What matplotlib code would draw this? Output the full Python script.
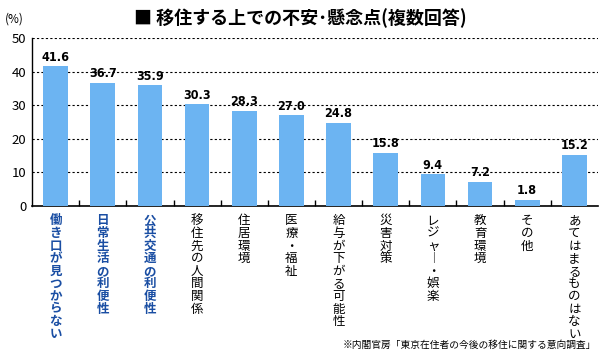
import matplotlib
matplotlib.use('Agg')
import matplotlib.pyplot as plt
import numpy as np

plt.rcParams['font.family'] = ['Noto Sans CJK JP', 'DejaVu Sans']

# データ
categories = ['働き口が見つからない', '日常生活の利便性', '公共交通の利便性', '移住先の人間関係',
              '住居環境', '医療・福祉', '給与が下がる可能性', '災害対策', 'レジャー・娯楽',
              '教育環境', 'その他', 'あてはまるものはない']
values = [41.6, 36.7, 35.9, 30.3, 28.3, 27.0, 24.8, 15.8, 9.4, 7.2, 1.8, 15.2]
highlight = [True, True, True] + [False] * 9
yticks = [0, 10, 20, 30, 40, 50]

fig = plt.figure(figsize=(6, 3.55), dpi=100)
ax = fig.add_axes([32 / 600, 1 - 206 / 355, 566 / 600, 168 / 355])

x = np.arange(len(categories))
ax.bar(x, values, width=0.52, color='#6cb4f2', zorder=3)

for xi, v in zip(x, values):
    ax.text(xi, v + 0.8, f'{v:.1f}', ha='center', va='bottom', fontsize=9,
            fontweight='bold', family='DejaVu Sans', stretch='condensed', zorder=4)

ax.set_xlim(-0.5, len(categories) - 0.5)
ax.set_ylim(0, 50)
ax.set_yticks(yticks)
ax.tick_params(axis='y', length=0, labelsize=9.5, pad=4)
ax.set_xticks(np.arange(0.5, len(categories) - 0.5, 1))
ax.set_xticklabels([])
ax.tick_params(axis='x', direction='in', length=4, width=1)
ax.grid(axis='y', linestyle=(0, (2, 2)), color='black', linewidth=0.8, zorder=0)
for s in ['top', 'right']:
    ax.spines[s].set_visible(False)
ax.spines['left'].set_linewidth(1)
ax.spines['bottom'].set_linewidth(1.2)

# 縦書きラベル
for xi, label, hl in zip(x, categories, highlight):
    vert = '\n'.join(label.replace('ー', '︱'))
    ax.text(xi, -2.5, vert, ha='center', va='top', fontsize=9, linespacing=0.96,
            color='#1a4ea3' if hl else 'black', fontweight='bold' if hl else 'normal',
            transform=ax.transData, clip_on=False)

fig.text(0.5, 1 - 18 / 355, '■ 移住する上での不安･懸念点(複数回答)', ha='center', va='center',
         fontsize=13, fontweight='bold')
fig.text(5 / 600, 1 - 19 / 355, '(%)', ha='left', va='center', fontsize=8.5)
fig.text(596 / 600, 1 - 345 / 355, '※内閣官房「東京在住者の今後の移住に関する意向調査」',
         ha='right', va='center', fontsize=7)

fig.savefig('out.png', dpi=100)
